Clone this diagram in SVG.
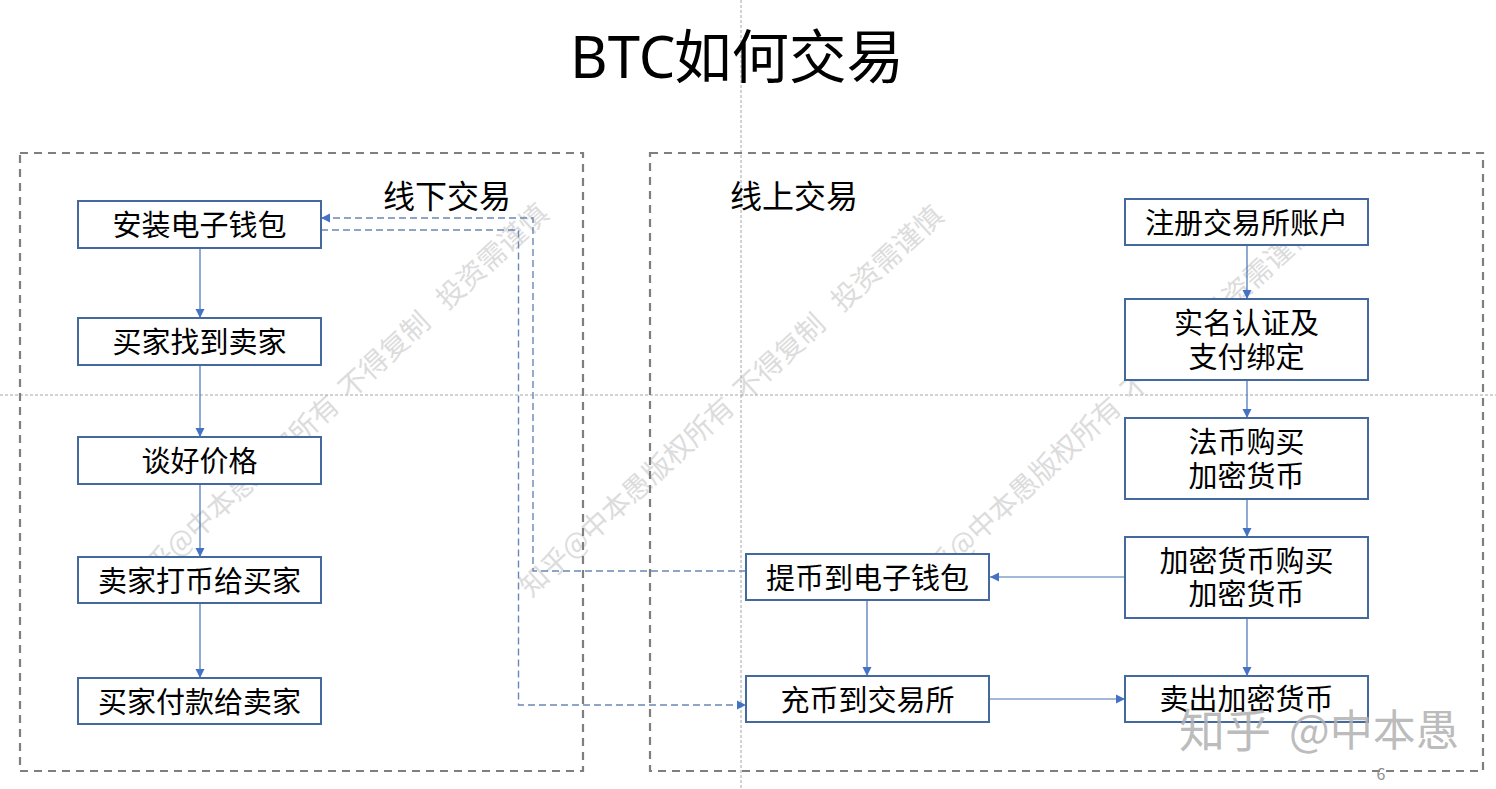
<svg xmlns="http://www.w3.org/2000/svg" width="1496" height="789" viewBox="0 0 1496 789">
<style>
text{font-family:"Noto Sans CJK SC","Noto Sans",sans-serif;fill:#000}
.t{font-size:29px;text-anchor:middle;dominant-baseline:central}
.h{font-size:32px;dominant-baseline:central}
.wm{font-size:28px;fill:#dcdcdc;white-space:pre}
.br{font-size:44px;fill:#b0b0b0;fill-opacity:.85}
.box{fill:#fff;stroke:#44699f;stroke-width:2}
.group{fill:none;stroke:#7f7f7f;stroke-width:2.200;stroke-dasharray:8 6}
.guide{fill:none;stroke:#a6a6a6;stroke-width:1;stroke-dasharray:3 2}
.c{fill:none;stroke:#4472b4;stroke-width:1.2}
.d{fill:none;stroke:#6c86b4;stroke-width:1.4;stroke-dasharray:7 4}
</style>
<defs><marker id="a" markerUnits="userSpaceOnUse" markerWidth="10" markerHeight="10" refX="9" refY="5" orient="auto"><path d="M0 0.5L9 5L0 9.5Z" fill="#4472c4"/></marker></defs>
<rect width="1496" height="789" fill="#fff"/>
<g id="watermarks">
<text class="wm" transform="translate(136,596) rotate(-42.5)">知乎@中本愚版权所有<tspan dx="5"> 不得复制</tspan><tspan dx="14"> 投资需谨慎</tspan></text>
<text class="wm" transform="translate(531,598) rotate(-42.5)">知乎@中本愚版权所有<tspan dx="5"> 不得复制</tspan><tspan dx="14"> 投资需谨慎</tspan></text>
<text class="wm" transform="translate(918,598) rotate(-42.5)">知乎@中本愚版权所有<tspan dx="5"> 不得复制</tspan><tspan dx="-8"> 投资需谨慎</tspan></text>
</g>
<g id="guides"><path class="guide" d="M741 0V789"/><path class="guide" d="M0 395H1496"/></g>
<g id="title"><text x="570" y="78" font-size="58" style="font-family:'Noto Sans',sans-serif">BTC</text><text x="674" y="78" font-size="57.500">如何交易</text></g>
<g id="offline-group"><rect class="group" x="20" y="153" width="563" height="618"/><text class="h" x="383" y="194">线下交易</text></g>
<g id="online-group"><rect class="group" x="650" y="153" width="833" height="618"/><text class="h" x="730" y="194">线上交易</text></g>
<g id="connectors">
<path class="c" marker-end="url(#a)" d="M200 248V318"/>
<path class="c" marker-end="url(#a)" d="M200 365V437"/>
<path class="c" marker-end="url(#a)" d="M200 484V557"/>
<path class="c" marker-end="url(#a)" d="M200 603V678"/>
<path class="c" marker-end="url(#a)" d="M1247 245V299"/>
<path class="c" marker-end="url(#a)" d="M1247 380V418"/>
<path class="c" marker-end="url(#a)" d="M1247 499V537"/>
<path class="c" marker-end="url(#a)" d="M1247 618V676"/>
<path class="c" marker-end="url(#a)" d="M1125 577H990"/>
<path class="c" marker-end="url(#a)" d="M867 600V676"/>
<path class="c" marker-end="url(#a)" d="M989 699H1125"/>
<path class="d" marker-end="url(#a)" d="M321 230H518.500V705H746"/>
<path class="d" marker-end="url(#a)" d="M746 571H533V218H321"/>
</g>
<g id="n1"><rect class="box" x="78" y="201" width="243" height="47"/><text class="t" x="199.500" y="223">安装电子钱包</text></g>
<g id="n2"><rect class="box" x="78" y="318" width="243" height="47"/><text class="t" x="199.500" y="340">买家找到卖家</text></g>
<g id="n3"><rect class="box" x="78" y="437" width="243" height="47"/><text class="t" x="199.500" y="459">谈好价格</text></g>
<g id="n4"><rect class="box" x="78" y="557" width="243" height="46"/><text class="t" x="199.500" y="579">卖家打币给买家</text></g>
<g id="n5"><rect class="box" x="78" y="678" width="243" height="46"/><text class="t" x="199.500" y="700">买家付款给卖家</text></g>
<g id="r1"><rect class="box" x="1125" y="199" width="243" height="46"/><text class="t" x="1246.500" y="221">注册交易所账户</text></g>
<g id="r2"><rect class="box" x="1125" y="299" width="243" height="81"/><text class="t" x="1246.500" y="321">实名认证及</text><text class="t" x="1246.500" y="355">支付绑定</text></g>
<g id="r3"><rect class="box" x="1125" y="418" width="243" height="81"/><text class="t" x="1246.500" y="440">法币购买</text><text class="t" x="1246.500" y="474">加密货币</text></g>
<g id="r4"><rect class="box" x="1125" y="537" width="243" height="81"/><text class="t" x="1246.500" y="559">加密货币购买</text><text class="t" x="1246.500" y="592">加密货币</text></g>
<g id="r5"><rect class="box" x="1125" y="676" width="243" height="46"/><text class="t" x="1246.500" y="697">卖出加密货币</text></g>
<g id="m1"><rect class="box" x="746" y="554" width="243" height="46"/><text class="t" x="867.500" y="576">提币到电子钱包</text></g>
<g id="m2"><rect class="box" x="746" y="676" width="243" height="46"/><text class="t" x="867.500" y="698">充币到交易所</text></g>
<g id="brand"><text class="br" x="1179" y="747" style="font-size:46px">知乎</text><text class="br" x="1289" y="746" style="font-size:43px">@中本愚</text></g>
<text id="page" x="1381" y="780" font-size="16" text-anchor="middle" style="fill:#8c8c8c">6</text>
</svg>
